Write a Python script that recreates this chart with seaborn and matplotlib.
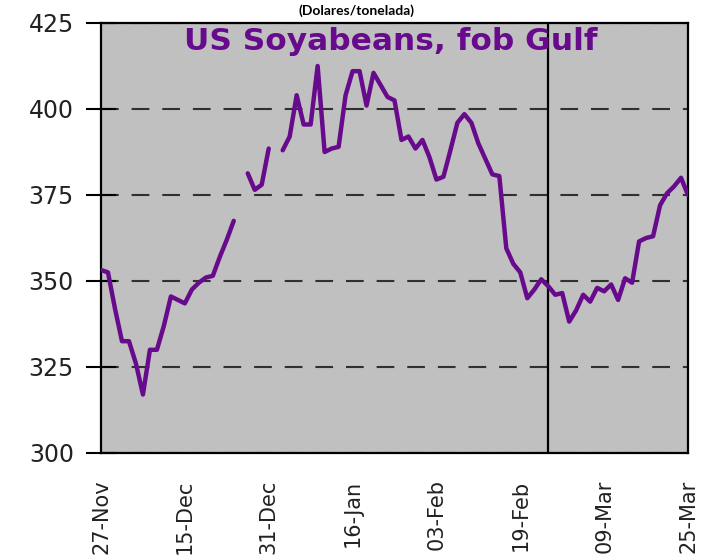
import numpy as np
import pandas as pd
import matplotlib
matplotlib.use("Agg")
import matplotlib.pyplot as plt
import seaborn as sns

nan = np.nan
# Daily (business-day) prices, US Soyabeans fob Gulf, USD/t
prices = [353.2, 352.5, 342, 332.5, 332.5, 326, 317, 330, 330, 337,
          345.5, 344.5, 343.5, 347.5, 349.5, 351, 351.5, 357, 362, 367.5,
          nan, 381.3, 376.5, 378, 388.5, nan,
          388, 392, 404, 395.5, 395.5, 412.5, 387.5, 388.5, 389, 404,
          411, 411, 401, 410.5, 407, 403.5, 402.5, 391, 392, 388.5,
          391, 386, 379.5, 380.3, 388, 396, 398.5, 396, 390, 385.5,
          381, 380.5, 359.5, 355, 352.5, 345, 347.5, 350.5, 348.5, 346,
          346.5, 338.2, 341.5, 346, 344, 348, 347, 349, 344.5, 350.8,
          349.5, 361.5, 362.5, 363, 372, 375.5, 377.5, 380, 375]
tick_labels = ["27-Nov", "15-Dec", "31-Dec", "16-Jan", "03-Feb", "19-Feb", "09-Mar", "25-Mar"]
label_step = 12
marker_day = 64
y_ticks = [300, 325, 350, 375, 400, 425]

series_title = "US Soyabeans, fob Gulf"
unit_title = "(Dolares/tonelada)"

idx = np.arange(len(prices))
vals = np.array(prices, dtype=float)
seg = np.cumsum(np.isnan(vals))
df = pd.DataFrame({"day": idx, "price": vals, "seg": seg}).dropna()

sns.set_style("white", {"axes.facecolor": "#c0c0c0", "axes.edgecolor": "black"})

purple = "#680a8c"

fig = plt.figure(figsize=(7.05, 5.58), dpi=100)
ax = fig.add_axes([101 / 705, 1 - 453 / 558, (688 - 101) / 705, 430 / 558])

ax.axvline(marker_day, color="black", lw=1.6, zorder=2)
sns.lineplot(data=df, x="day", y="price", units="seg", estimator=None,
             color=purple, lw=3.2, ax=ax, zorder=3, legend=False)

ax.set_xlim(0, len(prices) - 1)
ax.set_ylim(300, 425)
ax.set_yticks(y_ticks)
ax.set_yticklabels([str(v) for v in y_ticks], fontsize=17, family="DejaVu Sans", color="#222222")
ax.set_xticks(np.arange(0, len(prices), label_step))
ax.set_xticklabels(tick_labels, rotation=90, fontsize=15, family="DejaVu Sans", color="#222222")
ax.tick_params(axis="y", direction="inout", length=21, width=1.5, color="black", pad=9, left=True)
ax.tick_params(axis="x", length=0, pad=19)
ax.set_xlabel("")
ax.set_ylabel("")

ax.yaxis.grid(True, color="#303030", lw=1.5, linestyle=(0, (8.5, 6.2)))
ax.xaxis.grid(False)
ax.set_axisbelow(True)
for s in ax.spines.values():
    s.set_visible(True)
    s.set_color("black")
    s.set_linewidth(1.6)

ax.text(0.494, 0.937, series_title, transform=ax.transAxes, ha="center", va="baseline",
        fontsize=22.5, fontweight="bold", color=purple, family="DejaVu Sans", zorder=4)

fig.text(0.506, 1 - 15 / 558, unit_title, ha="center", va="baseline",
         fontsize=10, fontweight="bold", family="Lato", color="black")

fig.savefig("out.png", dpi=100, facecolor="white")
